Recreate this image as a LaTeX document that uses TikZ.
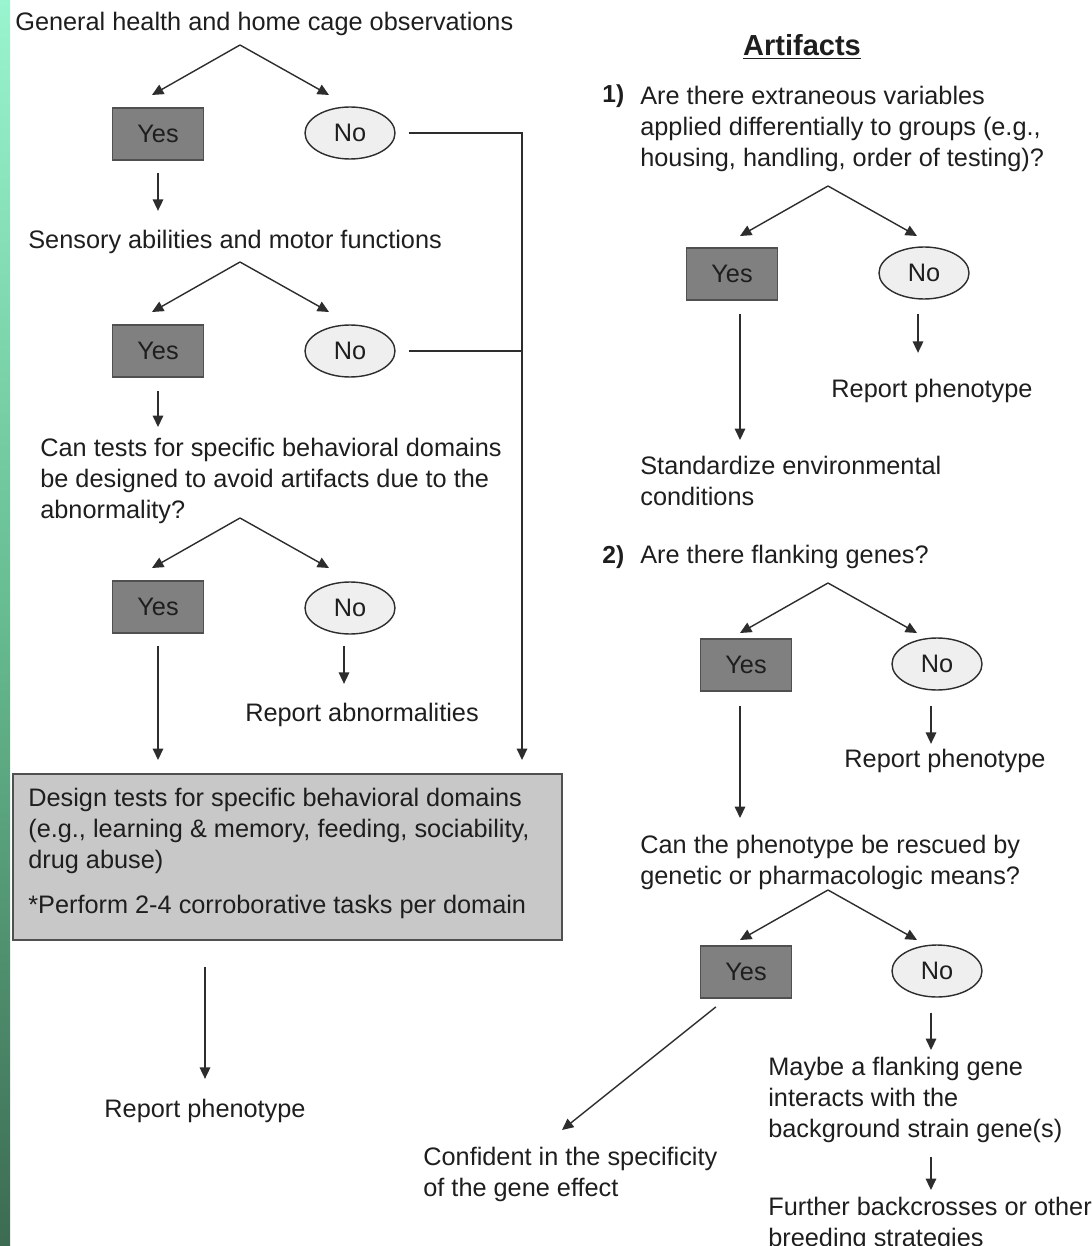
\documentclass[tikz,border=0pt]{standalone}
\usepackage{fontspec}
\setmainfont{Liberation Sans}
\usetikzlibrary{arrows.meta,calc,positioning,shapes.geometric}
\definecolor{yesfill}{RGB}{128,128,128}
\definecolor{yesedge}{RGB}{80,80,80}
\definecolor{nofill}{RGB}{239,239,239}
\definecolor{designfill}{RGB}{200,200,200}
\definecolor{linegray}{RGB}{45,45,45}
\definecolor{inkgray}{RGB}{30,30,30}
\definecolor{stripetop}{RGB}{153,245,207}
\definecolor{stripemid}{RGB}{102,187,144}
\definecolor{stripebottom}{RGB}{60,107,82}
\tikzset{
  every node/.style={font=\fontsize{14.4}{17.6}\selectfont},
  yesbox/.style={draw=yesedge,fill=yesfill,line width=0.9pt,minimum width=1.82cm,minimum height=1.04cm,inner sep=0pt,text=inkgray},
  noball/.style={ellipse,draw=linegray,fill=nofill,line width=0.8pt,minimum width=1.8cm,minimum height=1.04cm,inner sep=0pt,text=inkgray},
  designbox/.style={draw=yesedge,fill=designfill,line width=1pt,minimum width=10.98cm,minimum height=3.32cm,inner sep=0pt},
  flow/.style={draw=linegray,line width=0.8pt,-{Triangle[length=6.5pt,width=6pt]}},
  plain/.style={draw=linegray,line width=0.8pt},
  say/.style={anchor=west,inner sep=0pt,text=inkgray},
  saylines/.style={anchor=north west,inner sep=0pt,align=left,text=inkgray},
}
\newcommand{\yesnopair}[4]{%
  \coordinate (#1top) at (#2);%
  \node[yesbox] (#1yes) at (#3) {Yes};%
  \node[noball] (#1no) at (#4) {No};%
  \coordinate (#1yesin) at ($(#1top)+(-88,50)$);%
  \coordinate (#1noin) at ($(#1top)+(89,50)$);%
  \draw[flow] (#1top) -- (#1yesin);%
  \draw[flow] (#1top) -- (#1noin);%
}

\begin{document}
\begin{tikzpicture}[x=0.02cm,y=-0.02cm]
  \useasboundingbox (0,0) rectangle (1091,1246);
  \clip (0,0) rectangle (1091,1246);
  \shade[top color=stripetop,bottom color=stripebottom,middle color=stripemid] (0,0) rectangle (10,1246);
  % left column
  \node[say] (healthq) at (15,24) {General health and home cage observations};
  \yesnopair{health}{240,45}{158,134}{350,133}
  \node[say] (sensoryq) at (28,242) {Sensory abilities and motor functions};
  \yesnopair{sensory}{240,262}{158,351}{350,351}
  \node[saylines] (domainq) at (40,438) {Can tests for specific behavioral domains\\be designed to avoid artifacts due to the\\abnormality?};
  \yesnopair{domain}{240,518}{158,607}{350,608}
  \node[say,anchor=center] (abnorm) at (362,715) {Report abnormalities};
  \node[designbox,anchor=north west] (design) at (12,773) {};
  \node[saylines] (designtext) at (28,788) {Design tests for specific behavioral domains\\(e.g., learning \& memory, feeding, sociability,\\drug abuse)\\[8pt]*Perform 2-4 corroborative tasks per domain};
  \node[say,anchor=center] (reportl) at (205,1111) {Report phenotype};
  \draw[flow,shorten <=0.24cm,shorten >=0.38cm] (healthyes.south) -- (healthyes.south |- sensoryq.north);
  \draw[flow,shorten <=0.26cm,shorten >=0.22cm] (sensoryyes.south) -- (sensoryyes.south |- domainq.north);
  \draw[flow,shorten <=0.22cm,shorten >=0.38cm] ([xshift=-0.12cm]domainno.south) -- ([xshift=-0.12cm]domainno.south |- abnorm.north);
  \draw[flow,shorten <=0.24cm,shorten >=0.26cm] (domainyes.south) -- (domainyes.south |- design.north);
  \coordinate (joinright) at (522,133);
  \draw[flow,shorten <=0.26cm,shorten >=0.26cm] (healthno.east) -- (joinright) -- (joinright |- design.north);
  \draw[plain,shorten <=0.26cm] (sensoryno.east) -- (sensoryno.east -| joinright);
  \draw[flow,shorten <=0.52cm,shorten >=0.40cm] (reportl.north |- design.south) -- (reportl.north);
  % right column
  \node[anchor=center,inner sep=0pt,text=inkgray,font=\fontsize{16.5}{20}\selectfont\bfseries] (artifacts) at (802,47) {\underline{Artifacts}};
  \node[say,font=\fontsize{14}{17.6}\selectfont\bfseries] (numone) at (602,96) {1)};
  \node[saylines] (extraq) at (640,86) {Are there extraneous variables\\applied differentially to groups (e.g.,\\housing, handling, order of testing)?};
  \yesnopair{extra}{828,186}{732,274}{924,273}
  \node[say,anchor=center] (reportone) at (932,391) {Report phenotype};
  \node[saylines] (standard) at (640,456) {Standardize environmental\\conditions};
  \draw[flow,shorten <=0.26cm,shorten >=0.32cm] ([xshift=0.16cm]extrayes.south) -- ([xshift=0.16cm]extrayes.south |- standard.north);
  \draw[flow,shorten <=0.28cm,shorten >=0.52cm] ([xshift=-0.12cm]extrano.south) -- ([xshift=-0.12cm]extrano.south |- reportone.north);
  \node[say,font=\fontsize{14}{17.6}\selectfont\bfseries] (numtwo) at (602,557) {2)};
  \node[say] (flankq) at (640,557) {Are there flanking genes?};
  \yesnopair{flank}{828,583}{746,665}{937,664}
  \node[say,anchor=center] (reporttwo) at (945,761) {Report phenotype};
  \node[saylines] (rescueq) at (640,835) {Can the phenotype be rescued by\\genetic or pharmacologic means?};
  \draw[flow,shorten <=0.28cm,shorten >=0.34cm] ([xshift=-0.12cm]flankyes.south) -- ([xshift=-0.12cm]flankyes.south |- rescueq.north);
  \draw[flow,shorten <=0.30cm,shorten >=0.10cm] ([xshift=-0.12cm]flankno.south) -- ([xshift=-0.12cm]flankno.south |- reporttwo.north);
  \yesnopair{rescue}{828,890}{746,972}{937,971}
  \node[saylines] (confident) at (423,1147) {Confident in the specificity\\of the gene effect};
  \node[saylines] (maybe) at (768,1057) {Maybe a flanking gene\\interacts with the\\background strain gene(s)};
  \node[saylines] (further) at (768,1197) {Further backcrosses or other\\breeding strategies};
  \coordinate (confidentin) at (562,1130);
  \draw[flow,shorten <=0.26cm] ([xshift=-0.4cm]rescueyes.south) -- (confidentin);
  \draw[flow,shorten <=0.30cm,shorten >=0.14cm] ([xshift=-0.12cm]rescueno.south) -- ([xshift=-0.12cm]rescueno.south |- maybe.north);
  \draw[flow,shorten <=0.28cm,shorten >=0.14cm] ([xshift=3.26cm]maybe.south west) -- ([xshift=3.26cm]further.north west);
\end{tikzpicture}
\end{document}
